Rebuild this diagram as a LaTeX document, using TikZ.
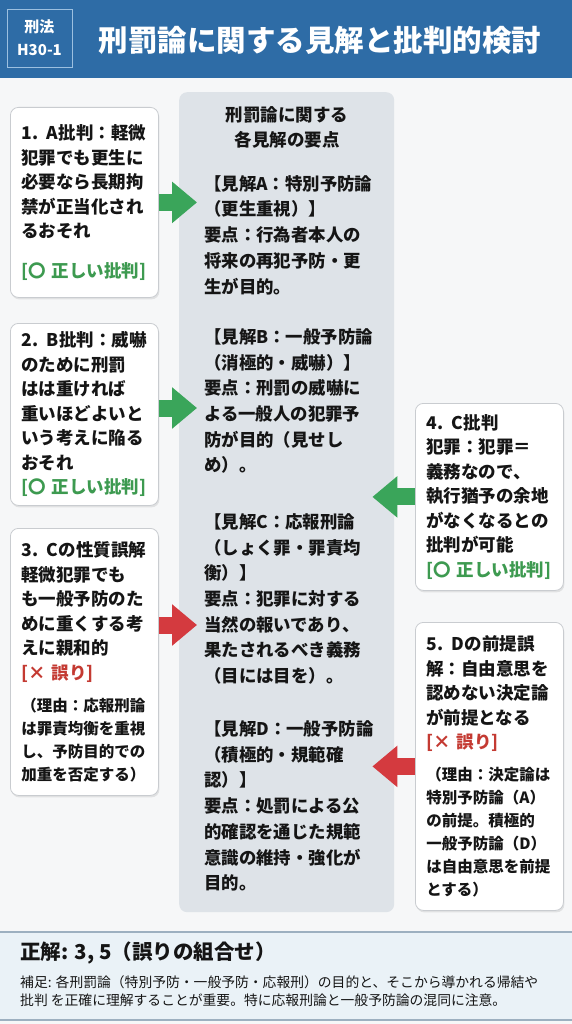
\documentclass[tikz,border=0pt]{standalone}
\usepackage{fontspec}
\usepackage{xcolor}
\usepackage{tikz}
\usetikzlibrary{calc,arrows.meta,shadows}
\newfontfamily\jpfont{Noto Sans CJK JP}
\definecolor{page}{HTML}{F6F7F8}
\definecolor{head}{HTML}{2E6CA6}
\definecolor{headline}{HTML}{9CC0E0}
\definecolor{panelbg}{HTML}{DEE3E8}
\definecolor{boxline}{HTML}{C9CCD0}
\definecolor{okgreen}{HTML}{3D9A50}
\definecolor{okarrow}{HTML}{3AA55A}
\definecolor{ngred}{HTML}{C43A32}
\definecolor{ngarrow}{HTML}{D43A3F}
\definecolor{footbg}{HTML}{EAF2F7}
\definecolor{footline}{HTML}{9DB0C0}
\definecolor{ink}{HTML}{151515}
\tikzset{
  critbox/.style={draw=boxline, line width=0.8pt, fill=white, rounded corners=8pt,
    drop shadow={opacity=0.18, shadow xshift=1pt, shadow yshift=-2pt},
    text width=126pt, inner xsep=11pt, inner ysep=0pt, align=left, text=ink,
    anchor=north west, font=\jpfont\bfseries\fontsize{17.5}{24.5}\selectfont},
  panelbox/.style={fill=panelbg, rounded corners=8pt, inner sep=0pt, anchor=north west},
  paneltitle/.style={text=ink, inner sep=0pt, align=center,
    font=\jpfont\bfseries\fontsize{17.5}{25}\selectfont},
  viewtext/.style={text=ink, inner sep=0pt, align=left, anchor=west,
    font=\jpfont\bfseries\fontsize{17.4}{25.7}\selectfont},
  tagbox/.style={draw=headline, line width=0.9pt, text=white, align=center,
    font=\jpfont\bfseries\fontsize{15}{23}\selectfont},
  okarr/.style={draw=okarrow, line width=17pt, -{Triangle[length=25pt,width=40pt]}},
  ngarr/.style={draw=ngarrow, line width=17pt, -{Triangle[length=25pt,width=40pt]}}
}
\newcommand{\okmark}{{\color{okgreen}[〇 正しい批判]}}
\newcommand{\ngmark}{{\color{ngred}[× 誤り]}}
\newcommand{\reasonfont}{\fontsize{15.5}{23}\selectfont}

\begin{document}
\begin{tikzpicture}[x=1pt,y=-1pt]
  \useasboundingbox (0,0) rectangle (572,1024);
  \fill[page] (0,0) rectangle (572,1024);

  % header
  \fill[head] (0,0) rectangle (572,78);
  \node[tagbox, minimum width=65pt, minimum height=58pt] (tag) at (39.5,38) {刑法\\H30-1};
  \node[text=white, font=\jpfont\bfseries\fontsize{29.5}{30}\selectfont] (title) at (320,40)
    {刑罰論に関する見解と批判的検討};

  % centre panel
  \node[panelbox, minimum width=215pt, minimum height=820pt] (panel) at (179,92) {};
  \node[paneltitle] (ptitle) at (287,127.5) {刑罰論に関する\\各見解の要点};
  \node[viewtext] (viewA) at (204,235)
    {【見解A：特別予防論\\（更生重視）】\\要点：行為者本人の\\将来の再犯予防・更\\生が目的。};
  \node[viewtext] (viewB) at (204,401)
    {【見解B：一般予防論\\（消極的・威嚇）】\\要点：刑罰の威嚇に\\よる一般人の犯罪予\\防が目的（見せし\\め）。};
  \node[viewtext] (viewC) at (204,599)
    {【見解C：応報刑論\\（しょく罪・罪責均\\衡）】\\要点：犯罪に対する\\当然の報いであり、\\果たされるべき義務\\（目には目を）。};
  \node[viewtext] (viewD) at (204,806)
    {【見解D：一般予防論\\（積極的・規範確\\認）】\\要点：処罰による公\\的確認を通じた規範\\意識の維持・強化が\\目的。};

  % criticism boxes
  \node[critbox, minimum height=190pt] (c1) at (10,107)
    {1. A批判：軽微\\犯罪でも更生に\\必要なら長期拘\\禁が正当化され\\るおそれ\\[15pt]\okmark};
  \node[critbox, minimum height=182pt] (c2) at (10,323)
    {2. B批判：威嚇\\のために刑罰\\はは重ければ\\重いほどよいと\\いう考えに陥る\\おそれ\\\okmark};
  \node[critbox, minimum height=267pt] (c3) at (10,528)
    {3. Cの性質誤解\\軽微犯罪でも\\も一般予防のた\\めに重くする考\\えに親和的\\\ngmark\par
     \vspace{9pt}{\reasonfont （理由：応報刑論\\は罪責均衡を重視\\し、予防目的での\\加重を否定する）\par}};
  \node[critbox, minimum height=187pt] (c4) at (415,403)
    {4. C批判\\犯罪：犯罪＝\\義務なので、\\執行猶予の余地\\がなくなるとの\\批判が可能\\\okmark};
  \node[critbox, minimum height=288pt] (c5) at (415,622)
    {5. Dの前提誤\\解：自由意思を\\認めない決定論\\が前提となる\\\ngmark\par
     \vspace{9pt}{\reasonfont （理由：決定論は\\特別予防論（A）\\の前提。積極的\\一般予防論（D）\\は自由意思を前提\\とする）\par}};

  % arrows into the panel
  \coordinate (c2out) at ($(c2.north east)+(0,85)$);
  \coordinate (c3out) at ($(c3.north east)+(0,97)$);
  \draw[okarr] (c1.east) -- ($(c1.east -| panel.west)+(18,0)$);
  \draw[okarr] (c2out) -- ($(c2out -| panel.west)+(18,0)$);
  \draw[ngarr] (c3out) -- ($(c3out -| panel.west)+(18,0)$);
  \draw[okarr] (c4.west) -- ($(c4.west -| panel.east)+(-22,0)$);
  \draw[ngarr] (c5.west) -- ($(c5.west -| panel.east)+(-22,0)$);

  % answer band
  \fill[footbg] (0,932) rectangle (572,1020);
  \draw[footline, line width=2pt] (0,932) -- (572,932);
  \draw[footline, line width=1.5pt] (0,1020) -- (572,1020);
  \node[anchor=west, inner sep=0pt, text=ink, font=\jpfont\bfseries\fontsize{20.5}{24}\selectfont]
    (answer) at (20,953) {正解: 3, 5（誤りの組合せ）};
  \node[anchor=west, inner sep=0pt, align=left, text=ink, font=\jpfont\fontsize{13.8}{18}\selectfont]
    (note) at (20,991) {補足: 各刑罰論（特別予防・一般予防・応報刑）の目的と、そこから導かれる帰結や\\批判 を正確に理解することが重要。特に応報刑論と一般予防論の混同に注意。};
\end{tikzpicture}
\end{document}
